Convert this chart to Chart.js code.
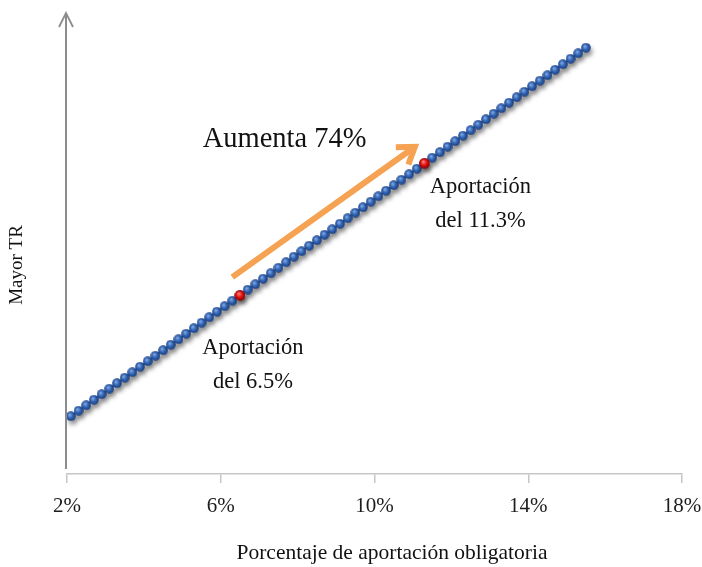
<!DOCTYPE html>
<html>
<head>
<meta charset="utf-8">
<script src="https://cdn.jsdelivr.net/npm/chart.js@4.4.1/dist/chart.umd.min.js"></script>
<style>
  html, body { margin: 0; padding: 0; background: #ffffff; }
  #wrap { width: 702px; height: 567px; }
</style>
</head>
<body>
<div id="wrap"><canvas id="c" width="702" height="567"></canvas></div>
<script>
// Contribution rate (%) and the resulting replacement rate (TR, relative units)
const contribution = [2.1, 2.3, 2.5, 2.7, 2.9, 3.1, 3.3, 3.5, 3.7, 3.9,
  4.1, 4.3, 4.5, 4.7, 4.9, 5.1, 5.3, 5.5, 5.7, 5.9,
  6.1, 6.3, 6.5, 6.7, 6.9, 7.1, 7.3, 7.5, 7.7, 7.9,
  8.1, 8.3, 8.5, 8.7, 8.9, 9.1, 9.3, 9.5, 9.7, 9.9,
  10.1, 10.3, 10.5, 10.7, 10.9, 11.1, 11.3, 11.5, 11.7, 11.9,
  12.1, 12.3, 12.5, 12.7, 12.9, 13.1, 13.3, 13.5, 13.7, 13.9,
  14.1, 14.3, 14.5, 14.7, 14.9, 15.1, 15.3, 15.5];
const tr = [10.5, 11.5, 12.5, 13.5, 14.5, 15.5, 16.5, 17.5, 18.5, 19.5,
  20.5, 21.5, 22.5, 23.5, 24.5, 25.5, 26.5, 27.5, 28.5, 29.5,
  30.5, 31.5, 32.5, 33.5, 34.5, 35.5, 36.5, 37.5, 38.5, 39.5,
  40.5, 41.5, 42.5, 43.5, 44.5, 45.5, 46.5, 47.5, 48.5, 49.5,
  50.5, 51.5, 52.5, 53.5, 54.5, 55.5, 56.5, 57.5, 58.5, 59.5,
  60.5, 61.5, 62.5, 63.5, 64.5, 65.5, 66.5, 67.5, 68.5, 69.5,
  70.5, 71.5, 72.5, 73.5, 74.5, 75.5, 76.5, 77.5];

// The two highlighted contribution levels
const highlightContribution = [6.5, 11.3];
const highlightTR = [32.5, 56.5];

// Axis ticks and titles
const xTicks = [2, 6, 10, 14, 18];
const xTitle = 'Porcentaje de aportación obligatoria';
const yTitle = 'Mayor TR';

const SERIF = '"Liberation Serif", "DejaVu Serif", serif';
const TEXT = '#121212';

// Shaded sphere used as the point marker
function sphere(d, light, mid, dark) {
  const c = document.createElement('canvas');
  c.width = d; c.height = d;
  const g = c.getContext('2d');
  const r = d / 2;
  const grad = g.createRadialGradient(r * 0.75, r * 0.7, r * 0.1, r, r, r);
  grad.addColorStop(0, light);
  grad.addColorStop(0.5, mid);
  grad.addColorStop(1, dark);
  g.fillStyle = grad;
  g.beginPath();
  g.arc(r, r, r - 0.2, 0, Math.PI * 2);
  g.fill();
  return c;
}
const blueBall = sphere(10, '#7fa6e2', '#3064b4', '#1b3c7c');
const redBall = sphere(11, '#ff7a6e', '#e01010', '#8a0000');

// Annotation layout (in data units / pixel offsets)
const trendArrow = { from: [6.3, 35.8], to: [11.05, 59.5] };
const trendText = { at: [5.53, 59.5] };
const highlightLabelOffsets = [[13, 59], [56, 30]];

const pct = ((highlightTR[1] / highlightTR[0] - 1) * 100).toFixed(0);

const shadowPlugin = {
  id: 'dropShadow',
  beforeDatasetDraw(chart) {
    const ctx = chart.ctx;
    ctx.save();
    ctx.shadowColor = 'rgba(0,0,0,0.38)';
    ctx.shadowBlur = 4;
    ctx.shadowOffsetX = 2;
    ctx.shadowOffsetY = 4;
  },
  afterDatasetDraw(chart) {
    chart.ctx.restore();
  }
};

const annotPlugin = {
  id: 'annotations',
  afterDatasetsDraw(chart) {
    const ctx = chart.ctx;
    const xs = chart.scales.x, ys = chart.scales.y;
    const area = chart.chartArea;
    const px = v => xs.getPixelForValue(v);
    const py = v => ys.getPixelForValue(v);

    // vertical axis with arrow head
    ctx.save();
    ctx.strokeStyle = '#8c8c8c';
    ctx.lineWidth = 2;
    const ax = area.left - 1;
    ctx.beginPath();
    ctx.moveTo(ax, area.bottom - 5);
    ctx.lineTo(ax, area.top + 1);
    ctx.stroke();
    ctx.lineWidth = 1.8;
    ctx.beginPath();
    ctx.moveTo(ax - 7, area.top + 15);
    ctx.lineTo(ax, area.top + 1);
    ctx.lineTo(ax + 7, area.top + 15);
    ctx.stroke();
    ctx.restore();

    // orange trend arrow
    const x0 = px(trendArrow.from[0]), y0 = py(trendArrow.from[1]);
    const x1 = px(trendArrow.to[0]), y1 = py(trendArrow.to[1]);
    const ang = Math.atan2(y1 - y0, x1 - x0);
    ctx.save();
    ctx.strokeStyle = '#f5a253';
    ctx.lineWidth = 6;
    ctx.lineCap = 'butt';
    ctx.lineJoin = 'miter';
    ctx.beginPath();
    ctx.moveTo(x0, y0);
    ctx.lineTo(x1 - 3 * Math.cos(ang), y1 - 3 * Math.sin(ang));
    ctx.stroke();
    const arm = 19, spread = 0.6;
    ctx.beginPath();
    ctx.moveTo(x1 - arm * Math.cos(ang - spread), y1 - arm * Math.sin(ang - spread));
    ctx.lineTo(x1, y1);
    ctx.lineTo(x1 - arm * Math.cos(ang + spread), y1 - arm * Math.sin(ang + spread));
    ctx.stroke();
    ctx.restore();

    // texts
    ctx.save();
    ctx.fillStyle = TEXT;
    ctx.textBaseline = 'alphabetic';
    ctx.textAlign = 'left';
    ctx.font = '28.5px ' + SERIF;
    ctx.fillText('Aumenta ' + pct + '%', px(trendText.at[0]), py(trendText.at[1]));

    ctx.textAlign = 'center';
    ctx.font = '22.5px ' + SERIF;
    highlightContribution.forEach((c, i) => {
      const cx = px(c) + highlightLabelOffsets[i][0];
      const cy = py(highlightTR[i]) + highlightLabelOffsets[i][1];
      ctx.fillText('Aportación', cx, cy);
      ctx.fillText('del ' + c + '%', cx, cy + 34);
    });

    // axis titles
    ctx.textBaseline = 'middle';
    ctx.font = '21.5px ' + SERIF;
    ctx.fillText(xTitle, 392, 553);
    ctx.translate(17, 265);
    ctx.rotate(-Math.PI / 2);
    ctx.font = '19px ' + SERIF;
    ctx.fillText(yTitle, 0, 0);
    ctx.restore();
  }
};

new Chart(document.getElementById('c'), {
  type: 'line',
  data: {
    datasets: [
      {
        label: 'Aportación',
        data: highlightContribution.map((x, i) => ({ x, y: highlightTR[i] })),
        showLine: false,
        pointStyle: redBall,
        pointRadius: 5,
        order: 0
      },
      {
        label: 'TR',
        data: contribution.map((x, i) => ({ x, y: tr[i] })),
        borderColor: '#2a5aa3',
        borderWidth: 2,
        pointStyle: blueBall,
        pointRadius: 5,
        tension: 0,
        order: 1
      }
    ]
  },
  options: {
    responsive: false,
    animation: false,
    events: [],
    layout: { padding: { top: 12, right: 20, left: 0, bottom: 0 } },
    plugins: { legend: { display: false }, tooltip: { enabled: false } },
    scales: {
      x: {
        type: 'linear',
        min: 2,
        max: 18,
        afterBuildTicks: s => { s.ticks = xTicks.map(v => ({ value: v })); },
        ticks: {
          callback: v => v + '%',
          font: { family: SERIF, size: 21 },
          color: '#1c1c1c',
          padding: 11,
          maxRotation: 0
        },
        grid: { drawOnChartArea: false, drawTicks: true, tickLength: 9, color: '#c6c6c6', lineWidth: 1.5 },
        border: { display: true, color: '#c6c6c6', width: 1.5 },
        title: { display: false },
        afterFit: s => { s.height = 93; s.paddingLeft = 0; s.paddingRight = 0; }
      },
      y: {
        type: 'linear',
        min: 0,
        max: 84,
        ticks: { display: false },
        grid: { display: false },
        border: { display: false },
        title: { display: false },
        afterFit: s => { s.width = 67; s.paddingTop = 0; s.paddingBottom = 0; }
      }
    }
  },
  plugins: [shadowPlugin, annotPlugin]
});
</script>
</body>
</html>
